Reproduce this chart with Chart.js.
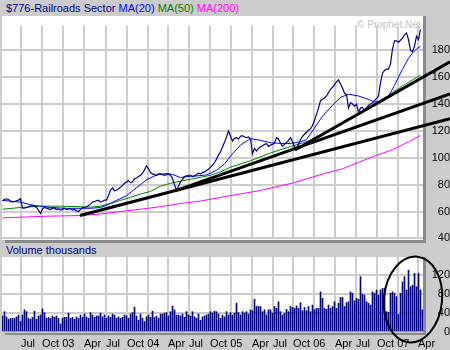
<!DOCTYPE html>
<html>
<head>
<meta charset="utf-8">
<title>$776-Railroads Sector</title>
<script src="https://cdn.jsdelivr.net/npm/chart.js@4.4.1/dist/chart.umd.min.js"></script>
<style>
  html, body { margin: 0; padding: 0; }
  body {
    width: 450px; height: 350px; position: relative; overflow: hidden;
    background: #cccccc;
    font-family: "Liberation Sans", Arial, sans-serif; font-size: 11px;
  }
  .box { position: absolute; }
  .plot { background: #ffffff; }
  .shade { background: #8a8a8a; }
  .txt { position: absolute; white-space: nowrap; }
  canvas { position: absolute; left: 0; }
</style>
</head>
<body>
<!-- title bar -->
<div class="txt" style="left:6px;top:0;line-height:16px;color:#000080">$776-Railroads Sector <span style="color:#0000ff">MA(20)</span> <span style="color:#008000">MA(50)</span> <span style="color:#ff00ff">MA(200)</span></div>

<!-- price panel frame -->
<div class="box plot" style="left:2px;top:16px;width:421px;height:224px"></div>
<div class="box shade" style="left:423px;top:16px;width:3px;height:227px"></div>
<div class="box shade" style="left:5px;top:240px;width:421px;height:3px"></div>
<div class="txt" style="left:357px;top:19px;line-height:12px;font-size:10px;color:#c4c4c4">© Prophet.Net</div>

<!-- volume panel frame -->
<div class="txt" style="left:6px;top:243px;line-height:14px;color:#000080">Volume thousands</div>
<div class="box plot" style="left:2px;top:257px;width:421px;height:75px"></div>
<div class="box shade" style="left:423px;top:257px;width:3px;height:78px"></div>
<div class="box shade" style="left:5px;top:332px;width:421px;height:3px"></div>

<canvas id="priceChart" width="450" height="232" style="top:16px"></canvas>
<canvas id="volumeChart" width="450" height="106" style="top:244px"></canvas>

<script>
// one bar / point every 2px, index 0 = early Apr 2003
const priceValues = [
  68, 69, 69.5, 69, 67.5, 67, 67.5, 68, 68.5, 69.5,
  62.5, 62.5, 63, 63.5, 64, 64.5, 64, 63, 61, 58.5,
  62, 63, 62.5, 62, 61.5, 62.5, 62.5, 61.5, 62, 61,
  61.5, 62.5, 61.5, 62, 62, 61, 61.5, 60.5, 60, 61.5,
  63, 63, 63.5, 64.5, 65.5, 67, 67.5, 68, 68.5, 67,
  67.5, 68.5, 68.5, 72, 76, 77.5, 75.5, 76, 77, 78,
  79.5, 81, 82, 83, 81.5, 82, 84.5, 85, 86, 87,
  88.5, 91, 94, 92, 89, 88, 87.5, 87, 88, 88,
  87.5, 87, 87.5, 88, 87, 84.5, 80, 75.5, 79, 82,
  84, 86, 86.5, 87, 87, 86, 86.5, 87.5, 88.5, 88,
  89, 89.5, 90.5, 91.5, 93, 94.5, 96.5, 99, 102, 104.5,
  108, 111.5, 115.5, 120, 116, 112.5, 114.5, 115, 114, 116,
  116.5, 115.5, 115, 115.5, 114, 103, 107, 105, 107, 108,
  109, 110, 110.5, 108.5, 109.5, 110, 111, 115, 114, 111,
  108.5, 110, 111.5, 113, 115, 112, 108, 107, 110, 113.5,
  116, 117.5, 119, 120.5, 121.5, 124, 128, 132.5, 137, 142.5,
  143.5, 144.5, 146, 148.5, 151, 152.5, 154.5, 156.5, 158, 155,
  152, 148, 147, 137, 141, 140, 138.5, 140, 134, 137,
  137.5, 135.5, 137, 139, 140, 141, 142.5, 144, 146, 156,
  163, 165, 166, 166, 170, 181, 187, 187, 186, 187.5,
  189, 191.5, 193, 188, 180, 179, 183, 190.5, 188, 195.5
];

const volumeValues = [
  34, 43, 32, 27, 29, 29, 29, 32, 36, 22,
  36, 47, 43, 29, 27, 31, 44, 27, 34, 36,
  49, 41, 29, 31, 29, 34, 31, 34, 29, 17,
  29, 31, 31, 40, 29, 31, 27, 32, 29, 36,
  31, 38, 32, 29, 41, 36, 31, 34, 34, 40,
  32, 36, 29, 34, 31, 38, 36, 29, 32, 29,
  31, 36, 34, 29, 38, 41, 52, 34, 25, 38,
  29, 22, 32, 36, 31, 44, 31, 34, 29, 38,
  38, 40, 41, 34, 43, 55, 47, 36, 36, 34,
  38, 31, 43, 36, 34, 43, 32, 29, 38, 25,
  32, 34, 36, 38, 43, 40, 44, 43, 38, 29,
  36, 32,
  43, 36, 41, 36, 40, 61, 41, 36, 43, 40,
  43, 38, 47, 45, 69, 54, 54, 54, 43, 47,
  36, 47, 47, 40, 54, 50, 64, 43, 36, 40,
  48, 43, 54, 52, 50, 55, 50, 62, 45, 52,
  45, 54, 43, 57, 47, 50, 50, 85, 71, 50,
  48, 57, 50, 54, 64, 50, 61, 73, 73, 54,
  62, 64, 85, 82, 66, 71, 69,
  117, 80, 78, 64, 61, 57, 85, 82, 89, 78,
  89, 92, 92, 43, 42, 82, 85, 82, 75, 37,
  82, 106, 117, 89, 131, 96, 99, 124, 96, 124,
  89, 47
];

// moving averages: [bar index, value]
const ma20Points = [
  [0, 68.3], [9, 67], [15, 64.7], [24, 63], [32, 62.4], [39, 62.4], [44, 62.4],
  [49, 63], [52, 64.7], [57, 68.3], [62, 71.8], [67, 77.7], [72, 83.6], [77, 87.2],
  [82, 88.3], [85, 87.6], [89, 85.3], [92, 86], [97, 86.5], [102, 87.2], [107, 90.7],
  [111, 95.4], [114, 101.3], [119, 109.5], [124, 114.3], [129, 113], [134, 111.2],
  [139, 110.7], [144, 110.7], [149, 111.9], [152, 113.5], [155, 120], [160, 131],
  [165, 139], [169, 145], [173, 147.3], [178, 146], [183, 143.5], [186, 141.5],
  [190, 142], [193, 145.5], [196, 154], [200, 166], [203, 174], [205, 178],
  [207, 181], [209, 183]
];
const ma50Points = [
  [0, 61.7], [9, 63], [19, 64], [29, 64], [39, 63.6], [44, 63.3], [49, 64],
  [54, 66], [59, 68.3], [64, 70.6], [69, 73], [74, 75], [79, 78.9], [84, 81],
  [89, 82.6], [94, 84], [99, 85.5], [104, 87], [109, 89.5], [114, 93], [124, 97.8],
  [134, 103.6], [144, 108.4], [150, 111], [154, 113], [160, 118], [165, 121.5],
  [169, 124.5], [174, 129], [181, 135], [186, 140], [190, 143.5], [195, 148.5],
  [200, 153.5], [205, 158], [209, 161.5]
];
const ma200Points = [
  [0, 55.3], [22, 56.5], [39, 57], [49, 58.2], [59, 60], [69, 61.7], [79, 63.6],
  [89, 66], [99, 67.8], [111, 71.1], [128, 75.4], [145, 81.2], [161, 88.3],
  [170, 91.8], [178, 96.6], [186, 101.3], [195, 106], [203, 111.9], [209, 116.6]
];

// hand drawn trend lines: [bar index, value], run out past the last bar
const trendA = [[38.75, 57], [223.75, 129.1]];
const trendB = [[86.25, 75.4], [223.75, 147.5]];
const trendC = [[146.25, 105.8], [223.75, 171.5]];

const priceTicks = [40, 60, 80, 100, 120, 140, 160, 180];
const volumeTicks = [0, 40, 80, 120];
const quarterTicks = [9.25, 19.75, 30.25, 40.75, 51.75, 62.25, 72.75, 82.75, 93.25, 103.75,
  114.25, 124.75, 135.25, 145.25, 155.75, 166.25, 176.75, 187.25, 197.75, 207.75];
const quarterLabels = ['Jul', 'Oct 03', '', 'Apr', 'Jul', 'Oct 04', '', 'Apr', 'Jul', 'Oct 05',
  '', 'Apr', 'Jul', 'Oct 06', '', 'Apr', 'Jul', 'Oct 07', '', 'Apr'];

const ringCenter = [205.25, 68.8]; // the circled volume spike

const fontSpec = { family: '"Liberation Sans", Arial, sans-serif', size: 11 };
const gridColor = '#cccccc';

const fixTicks = values => scale => { scale.ticks = values.map(v => ({ value: v })); };

const xAxis = () => ({
  type: 'linear', min: -0.25, max: 210.25, offset: false,
  afterBuildTicks: fixTicks(quarterTicks),
  grid: { color: gridColor, lineWidth: 2, drawTicks: false, offset: false },
  border: { display: false }
});

const lineSet = (data, color, width, order) => ({
  data, borderColor: color, borderWidth: width, order,
  pointRadius: 0, tension: 0, fill: false
});

const commonOptions = {
  responsive: false, animation: false, events: [],
  plugins: { legend: { display: false }, tooltip: { enabled: false } }
};

// price panel
new Chart(document.getElementById('priceChart'), {
  type: 'line',
  data: {
    datasets: [
      { ...lineSet(trendA, '#000000', 3, 0), clip: false },
      { ...lineSet(trendB, '#000000', 3, 0), clip: false },
      { ...lineSet(trendC, '#000000', 3, 0), clip: false },
      lineSet(priceValues.map((v, i) => [i, v]), '#000080', 1.2, 1),
      lineSet(ma20Points, '#0000ff', 1, 2),
      lineSet(ma50Points, '#008000', 1, 3),
      lineSet(ma200Points, '#ff00ff', 1, 4)
    ]
  },
  options: {
    ...commonOptions,
    layout: { padding: { left: 2, right: 0, top: 0, bottom: 8 }, autoPadding: false },
    scales: {
      x: { ...xAxis(), ticks: { display: false }, afterFit: s => { s.height = 0; } },
      y: {
        position: 'right', min: 40, max: 198.4,
        afterBuildTicks: fixTicks(priceTicks),
        afterFit: s => { s.width = 27; },
        grid: { color: gridColor, lineWidth: 2, drawTicks: false },
        border: { display: false },
        ticks: { color: '#000000', font: fontSpec, padding: 3, crossAlign: 'far' }
      }
    }
  }
});

// circle drawn round the latest volume bars
const ringPlugin = {
  id: 'ring',
  afterDraw(chart) {
    const { ctx, scales } = chart;
    const cx = scales.x.getPixelForValue(ringCenter[0]);
    const cy = scales.y.getPixelForValue(ringCenter[1]);
    ctx.save();
    ctx.beginPath();
    ctx.ellipse(cx, cy, 29, 43, 0.1, 0, Math.PI * 2);
    ctx.lineWidth = 2;
    ctx.strokeStyle = '#000000';
    ctx.stroke();
    ctx.restore();
  }
};

// volume panel
new Chart(document.getElementById('volumeChart'), {
  type: 'bar',
  data: {
    datasets: [{
      data: volumeValues.map((v, i) => ({ x: i, y: v })),
      backgroundColor: '#000080', borderWidth: 0, barThickness: 1
    }]
  },
  options: {
    ...commonOptions,
    layout: { padding: { left: 2, right: 0, top: 13, bottom: 0 }, autoPadding: false },
    scales: {
      x: {
        ...xAxis(),
        afterFit: s => { s.height = 18; },
        ticks: {
          autoSkip: false, maxRotation: 0, align: 'start', padding: 5,
          color: '#000000', font: fontSpec,
          callback: (value, index) => quarterLabels[index]
        }
      },
      y: {
        position: 'right', min: 0, max: 158.7,
        afterBuildTicks: fixTicks(volumeTicks),
        afterFit: s => { s.width = 27; },
        grid: { color: gridColor, lineWidth: 2, drawTicks: false },
        border: { display: false },
        ticks: { color: '#000000', font: fontSpec, padding: 0, crossAlign: 'far' }
      }
    }
  },
  plugins: [ringPlugin]
});
</script>
</body>
</html>
